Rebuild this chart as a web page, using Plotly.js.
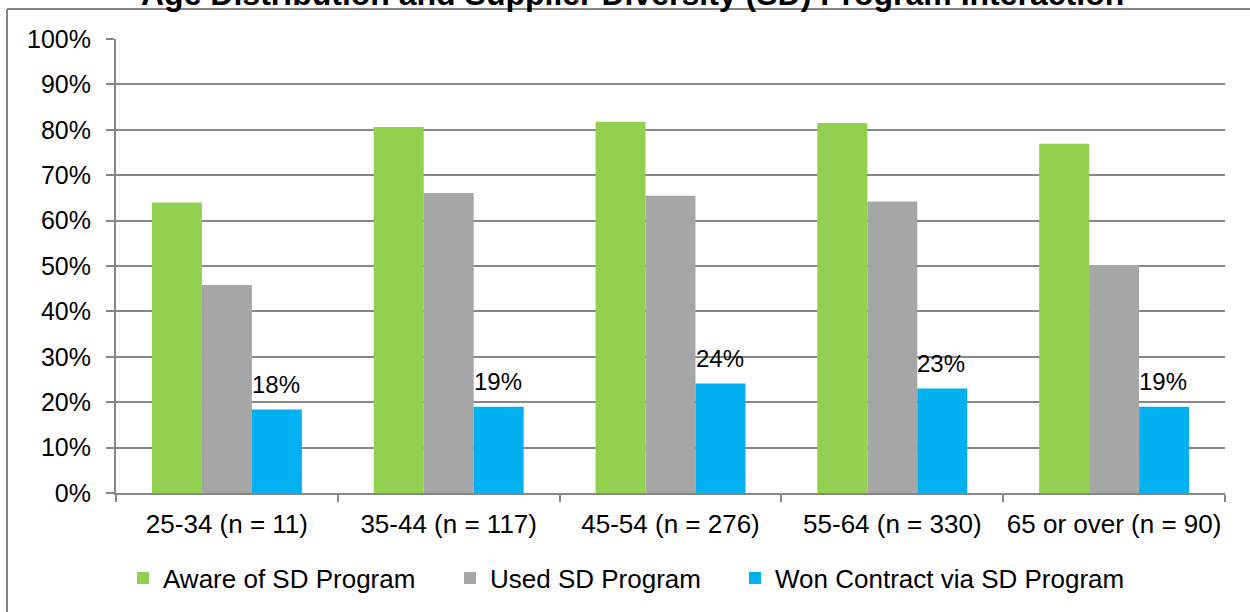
<!DOCTYPE html>
<html>
<head>
<meta charset="utf-8">
<script src="https://cdn.plot.ly/plotly-3.0.1.min.js"></script>
<style>html,body{margin:0;padding:0;background:#fff;}#chart{width:1250px;height:612px;}</style>
</head>
<body>
<div id="chart"></div>
<script>
var categories = ["25-34 (n = 11)", "35-44 (n = 117)", "45-54 (n = 276)", "55-64 (n = 330)", "65 or over (n = 90)"];
var awareValues = [0.64, 0.806, 0.818, 0.815, 0.769];
var usedValues = [0.458, 0.661, 0.655, 0.642, 0.502];
var wonValues = [0.184, 0.19, 0.241, 0.23, 0.19];
var seriesNames = ["Aware of SD Program", "Used SD Program", "Won Contract via SD Program"];
var titleText = "Age Distribution and Supplier Diversity (SD) Program Interaction";

var font = "Liberation Sans, Arial, sans-serif";
var gridColor = "#878787";

var traces = [
  {type: "bar", name: seriesNames[0], x: categories, y: awareValues, marker: {color: "#92D050"}, hoverinfo: "none", legend: "legend"},
  {type: "bar", name: seriesNames[1], x: categories, y: usedValues, marker: {color: "#A6A6A6"}, hoverinfo: "none", legend: "legend2"},
  {type: "bar", name: seriesNames[2], x: categories, y: wonValues, marker: {color: "#00B0F0"}, hoverinfo: "none", legend: "legend3"}
];

function legendAt(px) {
  return {orientation: "h", x: (px - 116) / 1109, xanchor: "left", y: (494 - 578) / 455, yanchor: "middle",
          font: {family: font, size: 26, color: "#000"}, itemwidth: 30, borderwidth: 0, bgcolor: "rgba(0,0,0,0)"};
}

var annotations = [
  {text: "<b>" + titleText + "</b>", xref: "paper", yref: "paper", x: (632 - 116) / 1109, y: 1.0, xanchor: "center", yanchor: "middle",
   yshift: 45, showarrow: false, font: {family: font, size: 32, color: "#000"}}
];
for (var i = 0; i < categories.length; i++) {
  annotations.push({text: Math.round(wonValues[i] * 100) + "%", xref: "x", yref: "y", x: categories[i], y: wonValues[i],
    xanchor: "center", yanchor: "middle", xshift: 49, yshift: 25, showarrow: false,
    font: {family: font, size: 24, color: "#000"}});
}

var layout = {
  width: 1250, height: 612,
  margin: {l: 116, r: 25, t: 39, b: 118},
  paper_bgcolor: "#fff", plot_bgcolor: "#fff",
  font: {family: font, size: 24, color: "#000"},
  barmode: "group", bargap: 0.324, bargroupgap: 0,
  showlegend: true,
  legend: legendAt(123),
  legend2: legendAt(450),
  legend3: legendAt(735),
  xaxis: {type: "category", showgrid: false, showline: true, linecolor: gridColor, linewidth: 2,
          ticks: "outside", tickson: "boundaries", ticklen: 7, tickcolor: gridColor, tickwidth: 2,
          ticklabelstandoff: 7, tickangle: 0,
          tickfont: {family: font, size: 26, color: "#000"}, fixedrange: true},
  yaxis: {range: [0, 1], dtick: 0.1, tick0: 0, tickformat: ".0%", showgrid: true, gridcolor: gridColor, gridwidth: 2,
          showline: true, linecolor: gridColor, linewidth: 2, ticks: "outside", ticklen: 8, tickcolor: gridColor, tickwidth: 2,
          ticklabelstandoff: 10,
          zeroline: false, tickfont: {family: font, size: 25, color: "#000"}, fixedrange: true},
  shapes: [
    {type: "line", xref: "paper", yref: "paper", x0: (7 - 116) / 1109, x1: 1.1, y0: (494 - 9) / 455, y1: (494 - 9) / 455, line: {color: gridColor, width: 2}},
    {type: "line", xref: "paper", yref: "paper", x0: (7 - 116) / 1109, x1: (7 - 116) / 1109, y0: (494 - 9) / 455, y1: -0.5, line: {color: gridColor, width: 2}}
  ],
  annotations: annotations
};

Plotly.newPlot("chart", traces, layout, {displayModeBar: false, staticPlot: true});
</script>
</body>
</html>
